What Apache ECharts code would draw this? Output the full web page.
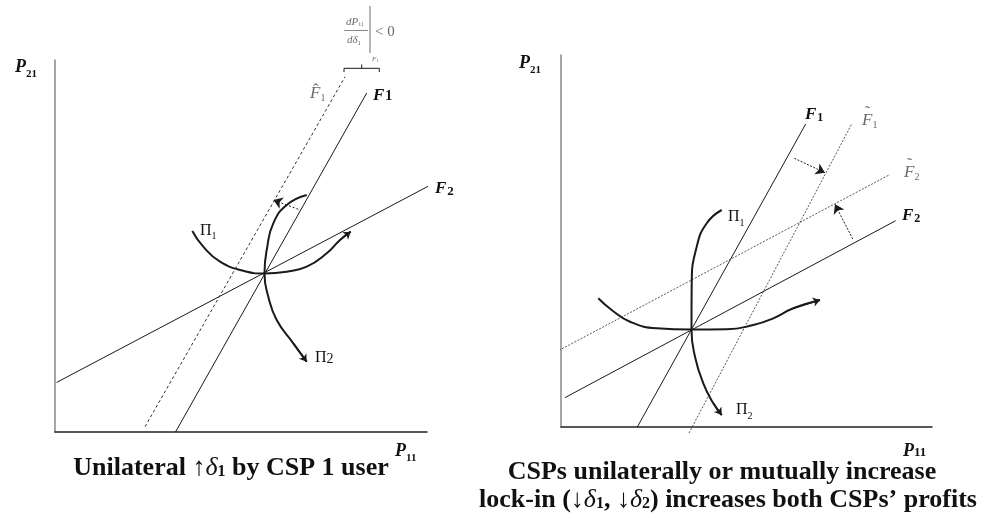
<!DOCTYPE html>
<html><head><meta charset="utf-8">
<script src="https://cdn.jsdelivr.net/npm/echarts@6/dist/echarts.min.js"></script>
<style>html,body{margin:0;padding:0;background:#fff}#c{width:988px;height:528px}</style>
</head><body><div id="c"></div>
<script>
// ---------- data (axis units: left panel 0..372 x 0..372, right panel 0..371 x 0..372) ----------
const leftAxisMax = [372, 372];
const rightAxisMax = [371, 372];

const leftF1     = [[120.5, 0], [311.7, 339]];
const leftF1Hat  = [[90, 5.3], [290, 355.2]];
const leftF2     = [[1.7, 49.6], [375, 246.7]];
const leftPi1    = [[137.3,201],[148.3,185.3],[165,170.3],[188.3,161.3],[209.5,158.5],[231.7,160.3],[251.7,165.3],[271.7,178.7],[285,192],[295.7,200.3]];
const leftPi2    = [[251.7,237],[231.7,227],[218.3,208.7],[212.3,185.3],[209.5,158.5],[213.3,135.3],[221.7,112],[238.3,88.7],[251.7,70.3]];
const leftShift  = [[243.3,222.7],[218.3,232]];

const rightF1      = [[76.3, 0], [244.7, 303]];
const rightF1Tilde = [[128, -6], [290.3, 302.3]];
const rightF2      = [[4, 29.4], [334.7, 206.3]];
const rightF2Tilde = [[-2, 76.6], [329, 252.5]];
const rightPiV     = [[160.7,217],[145.7,203.7],[135.7,180.3],[130.7,143.7],[130.5,97.5],[134,70.3],[142.3,43.7],[152.3,23.7],[160.7,12]];
const rightPiH     = [[37.3,128.7],[50.7,117],[69,105.3],[95.7,98.7],[130.5,97.5],[165.7,97.7],[192.3,102],[212.3,108.7],[232.3,118.7],[259,127]];
const rightShiftA  = [[233.3,268.7],[264,254.3]];
const rightShiftB  = [[291.7,188],[274,222.7]];

const captionLeft = ['Unilateral ', '\u2191', '\u03B4', '1', ' by CSP 1 user'];
const captionRight1 = 'CSPs unilaterally or mutually increase';
const captionRight2 = ['lock-in (', '\u2193', '\u03B4', '1', ', ', '\u2193', '\u03B4', '2', ') increases both CSPs\u2019 profits'];

// ---------- helpers ----------
const FAM = '"Liberation Serif", "Times New Roman", serif';
const mctx = document.createElement('canvas').getContext('2d');
function fontStr(p){ return (p.i?'italic ':'') + (p.b?'bold ':'') + p.s + 'px ' + FAM; }
function run(x, base, parts, align){
  const ws = parts.map(p => { mctx.font = fontStr(p); return mctx.measureText(p.t).width; });
  const total = ws.reduce((a,b)=>a+b,0) + parts.reduce((a,p)=>a+(p.g||0),0);
  let cx = align === 'center' ? x - total/2 : x;
  const els = [];
  parts.forEach((p,i) => {
    cx += p.g||0;
    const y = base + (p.dy||0) - 0.3*p.s;
    els.push({type:'text', x: cx, y: y, silent:true,
      style:{text:p.t, font:fontStr(p), fill:p.c||'#111', align:'left', verticalAlign:'middle', textAlign:'left', textVerticalAlign:'middle'}});
    cx += ws[i];
  });
  return els;
}
function seg(x1,y1,x2,y2,c,w){ return {type:'line', silent:true, shape:{x1,y1,x2,y2}, style:{stroke:c||'#777', lineWidth:w||1}}; }

const BLK = '#1a1a1a', GRY = '#6a6a6a';
function lineS(data, gi, opt){
  return Object.assign({type:'line', xAxisIndex:gi, yAxisIndex:gi, data:data, symbol:'none', clip:false, animation:false, silent:true,
    lineStyle:{color:BLK, width:1}}, opt||{});
}
function arrowS(coordsList, gi, style, size){
  return {type:'lines', coordinateSystem:'cartesian2d', xAxisIndex:gi, yAxisIndex:gi, clip:false, animation:false, silent:true,
    symbol:['none','arrow'], symbolSize:size||8, lineStyle:Object.assign({color:BLK, width:1, opacity:1, curveness:0}, style||{}),
    data: coordsList.map(c => ({coords:c}))};
}
function tail(arr){ return [arr[arr.length-2], arr[arr.length-1]]; }

// ---------- labels ----------
const g = [];
// left panel
g.push(...run(15, 73, [{t:'P', i:1, b:1, s:18}, {t:'21', b:1, s:11, dy:4}]));
g.push(...run(395, 457, [{t:'P', i:1, b:1, s:18}, {t:'11', b:1, s:11, dy:4}]));
g.push(...run(310, 99, [{t:'F', i:1, s:17, c:GRY}, {t:'1', s:10, dy:2, c:GRY}]));
g.push(...run(313, 96, [{t:'\u02C6', s:17, c:GRY}]));
g.push(...run(373, 101, [{t:'F', i:1, b:1, s:17}, {t:'1', b:1, s:14, g:1}]));
g.push(...run(435, 194, [{t:'F', i:1, b:1, s:17}, {t:'2', b:1, s:13, dy:2, g:1}]));
g.push(...run(200, 236, [{t:'\u03A0', s:16}, {t:'1', s:10, dy:3}]));
g.push(...run(315, 363, [{t:'\u03A0', s:16}, {t:'2', s:14, dy:1}]));
// formula annotation
g.push(...run(346, 25, [{t:'dP', i:1, s:11, c:GRY}, {t:'11', s:6, dy:1, c:GRY}]));
g.push(seg(344, 30.5, 368, 30.5, GRY, 0.8));
g.push(...run(347, 43, [{t:'d\u03B4', i:1, s:11, c:GRY}, {t:'1', s:7, dy:2, c:GRY}]));
g.push(seg(370, 6, 370, 53, GRY, 1));
g.push(...run(375, 37, [{t:'< 0', s:15, c:GRY}]));
g.push(...run(372, 61, [{t:'F', i:1, s:7, c:GRY}, {t:'1', s:5, dy:1, c:GRY}]));
g.push({type:'polyline', silent:true, shape:{points:[[344,72],[344,68.3],[379.3,68.3],[379.3,72]]}, style:{stroke:BLK, lineWidth:1, fill:null}});
g.push(seg(361.7, 68.3, 361.7, 64.5, BLK, 1));
// right panel
g.push(...run(519, 69, [{t:'P', i:1, b:1, s:18}, {t:'21', b:1, s:11, dy:4}]));
g.push(...run(903, 457, [{t:'P', i:1, b:1, s:18}, {t:'11', b:1, s:13, dy:0}]));
g.push(...run(805, 120, [{t:'F', i:1, b:1, s:17}, {t:'1', b:1, s:12, dy:2, g:1}]));
g.push(...run(862, 126, [{t:'F', i:1, s:17, c:GRY}, {t:'1', s:10, dy:2, c:GRY}]));
g.push(...run(865, 118, [{t:'\u02DC', s:16, c:GRY}]));
g.push(...run(904, 178, [{t:'F', i:1, s:17, c:GRY}, {t:'2', s:10, dy:2, c:GRY}]));
g.push(...run(907, 170, [{t:'\u02DC', s:16, c:GRY}]));
g.push(...run(902, 221, [{t:'F', i:1, b:1, s:17}, {t:'2', b:1, s:12, dy:2, g:1}]));
g.push(...run(728, 222, [{t:'\u03A0', s:16}, {t:'1', s:10, dy:4}]));
g.push(...run(736, 415, [{t:'\u03A0', s:16}, {t:'2', s:10, dy:4}]));
// captions
const CS = 26, CSUB = 16;
g.push(...run(231, 476, [
  {t:captionLeft[0], b:1, s:CS}, {t:captionLeft[1], s:CS}, {t:captionLeft[2], i:1, s:CS},
  {t:captionLeft[3], b:1, s:CSUB, dy:1}, {t:captionLeft[4], b:1, s:CS}], 'center'));
g.push(...run(722, 480, [{t:captionRight1, b:1, s:CS}], 'center'));
g.push(...run(728, 508, [
  {t:captionRight2[0], b:1, s:CS}, {t:captionRight2[1], s:CS}, {t:captionRight2[2], i:1, s:CS}, {t:captionRight2[3], b:1, s:CSUB, dy:1},
  {t:captionRight2[4], b:1, s:CS}, {t:captionRight2[5], s:CS}, {t:captionRight2[6], i:1, s:CS}, {t:captionRight2[7], b:1, s:CSUB, dy:1},
  {t:captionRight2[8], b:1, s:CS}], 'center'));

// ---------- chart ----------
const axisCommon = {type:'value', axisTick:{show:false}, axisLabel:{show:false}, splitLine:{show:false}};
const chart = echarts.init(document.getElementById('c'), null, {renderer:'canvas'});
chart.setOption({
  animation:false,
  backgroundColor:'#fff',
  grid:[{left:55, top:60, width:372, height:372}, {left:561, top:55, width:371, height:372}],
  xAxis:[
    Object.assign({gridIndex:0, min:0, max:leftAxisMax[0], axisLine:{lineStyle:{color:'#222', width:1.5}}}, axisCommon),
    Object.assign({gridIndex:1, min:0, max:rightAxisMax[0], axisLine:{lineStyle:{color:'#222', width:1.5}}}, axisCommon)
  ],
  yAxis:[
    Object.assign({gridIndex:0, min:0, max:leftAxisMax[1], axisLine:{lineStyle:{color:'#888', width:1.5}}}, axisCommon),
    Object.assign({gridIndex:1, min:0, max:rightAxisMax[1], axisLine:{lineStyle:{color:'#888', width:1.5}}}, axisCommon)
  ],
  series:[
    lineS(leftF2, 0),
    lineS(leftF1, 0),
    lineS(leftF1Hat, 0, {lineStyle:{color:'#333', width:1, type:[3,2.5]}}),
    lineS(leftPi1, 0, {smooth:0.5, lineStyle:{color:BLK, width:2}}),
    lineS(leftPi2, 0, {smooth:0.5, lineStyle:{color:BLK, width:2}}),
    arrowS([tail(leftPi1), tail(leftPi2)], 0, {width:1.5}, 7),
    arrowS([leftShift], 0, {type:[2,2], width:1}, 9),

    lineS(rightF2, 1),
    lineS(rightF1, 1),
    lineS(rightF1Tilde, 1, {lineStyle:{color:'#444', width:0.9, type:[2,1.5]}}),
    lineS(rightF2Tilde, 1, {lineStyle:{color:'#444', width:0.9, type:[2,1.5]}}),
    lineS(rightPiV, 1, {smooth:0.5, lineStyle:{color:BLK, width:2}}),
    lineS(rightPiH, 1, {smooth:0.5, lineStyle:{color:BLK, width:2}}),
    arrowS([tail(rightPiV), tail(rightPiH)], 1, {width:1.5}, 7),
    arrowS([rightShiftA, rightShiftB], 1, {type:[2,1.5], width:1}, 9)
  ],
  graphic:{elements:g}
});
</script></body></html>
